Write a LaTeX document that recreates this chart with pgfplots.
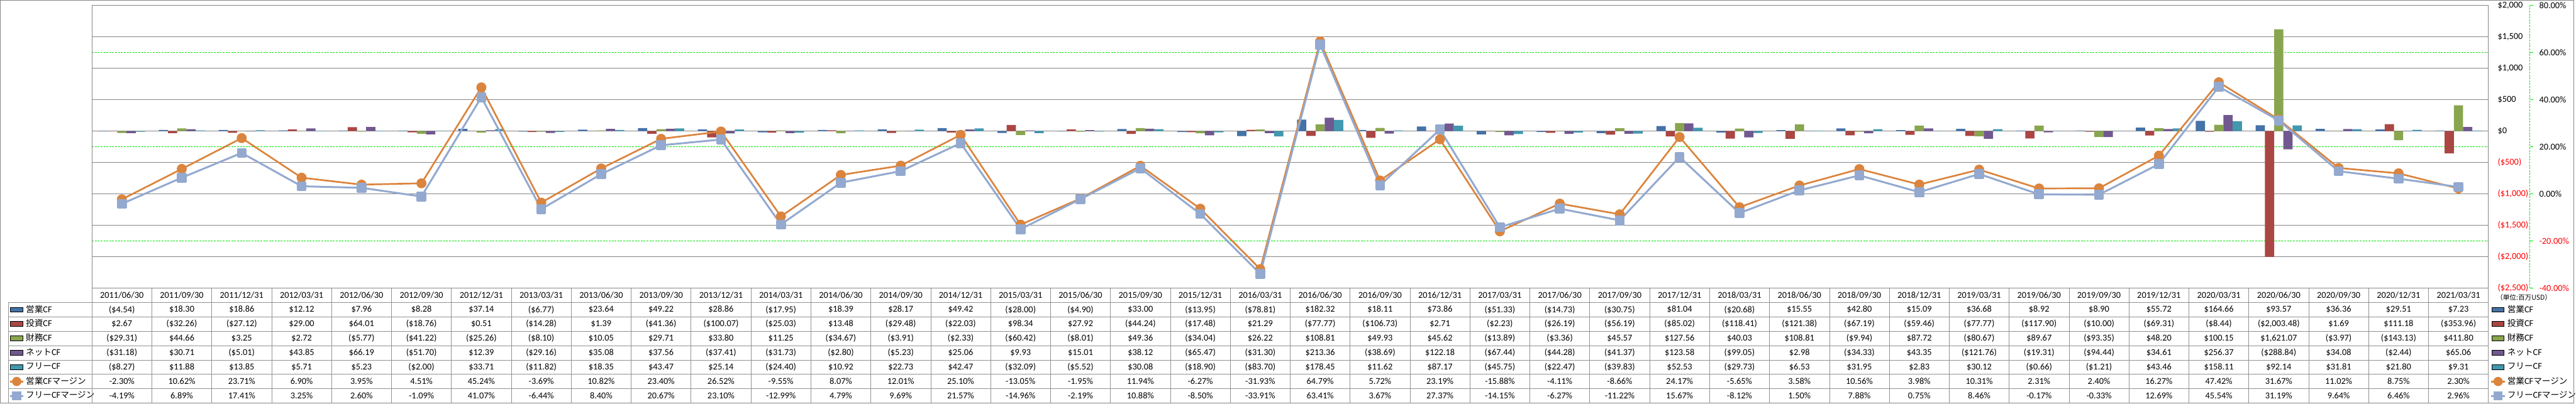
\documentclass[border=0pt]{standalone}
\usepackage{fontspec}
\setmainfont{Carlito}
\newfontfamily\cjk{Noto Sans CJK JP}[Scale=0.95]
\usepackage{pgfplots}
\usepackage{pgfplotstable}
\pgfplotsset{compat=1.18}

\definecolor{cOp}{HTML}{4572A7}
\definecolor{cInv}{HTML}{AA4643}
\definecolor{cFin}{HTML}{89A54E}
\definecolor{cNet}{HTML}{71588F}
\definecolor{cFree}{HTML}{4198AF}
\definecolor{cOpM}{HTML}{DB843D}
\definecolor{cFreeM}{HTML}{93A9CF}
\definecolor{gridgray}{HTML}{868686}
\definecolor{gridgreen}{HTML}{00E400}

% quarterly cash flow (million USD) and margins (%)
\pgfplotstableread{
x date ocf icf fcf ncf frcf om fm
0 2011/06/30 -4.54 2.67 -29.31 -31.18 -8.27 -2.30 -4.19
1 2011/09/30 18.30 -32.26 44.66 30.71 11.88 10.62 6.89
2 2011/12/31 18.86 -27.12 3.25 -5.01 13.85 23.71 17.41
3 2012/03/31 12.12 29.00 2.72 43.85 5.71 6.90 3.25
4 2012/06/30 7.96 64.01 -5.77 66.19 5.23 3.95 2.60
5 2012/09/30 8.28 -18.76 -41.22 -51.70 -2.00 4.51 -1.09
6 2012/12/31 37.14 0.51 -25.26 12.39 33.71 45.24 41.07
7 2013/03/31 -6.77 -14.28 -8.10 -29.16 -11.82 -3.69 -6.44
8 2013/06/30 23.64 1.39 10.05 35.08 18.35 10.82 8.40
9 2013/09/30 49.22 -41.36 29.71 37.56 43.47 23.40 20.67
10 2013/12/31 28.86 -100.07 33.80 -37.41 25.14 26.52 23.10
11 2014/03/31 -17.95 -25.03 11.25 -31.73 -24.40 -9.55 -12.99
12 2014/06/30 18.39 13.48 -34.67 -2.80 10.92 8.07 4.79
13 2014/09/30 28.17 -29.48 -3.91 -5.23 22.73 12.01 9.69
14 2014/12/31 49.42 -22.03 -2.33 25.06 42.47 25.10 21.57
15 2015/03/31 -28.00 98.34 -60.42 9.93 -32.09 -13.05 -14.96
16 2015/06/30 -4.90 27.92 -8.01 15.01 -5.52 -1.95 -2.19
17 2015/09/30 33.00 -44.24 49.36 38.12 30.08 11.94 10.88
18 2015/12/31 -13.95 -17.48 -34.04 -65.47 -18.90 -6.27 -8.50
19 2016/03/31 -78.81 21.29 26.22 -31.30 -83.70 -31.93 -33.91
20 2016/06/30 182.32 -77.77 108.81 213.36 178.45 64.79 63.41
21 2016/09/30 18.11 -106.73 49.93 -38.69 11.62 5.72 3.67
22 2016/12/31 73.86 2.71 45.62 122.18 87.17 23.19 27.37
23 2017/03/31 -51.33 -2.23 -13.89 -67.44 -45.75 -15.88 -14.15
24 2017/06/30 -14.73 -26.19 -3.36 -44.28 -22.47 -4.11 -6.27
25 2017/09/30 -30.75 -56.19 45.57 -41.37 -39.83 -8.66 -11.22
26 2017/12/31 81.04 -85.02 127.56 123.58 52.53 24.17 15.67
27 2018/03/31 -20.68 -118.41 40.03 -99.05 -29.73 -5.65 -8.12
28 2018/06/30 15.55 -121.38 108.81 2.98 6.53 3.58 1.50
29 2018/09/30 42.80 -67.19 -9.94 -34.33 31.95 10.56 7.88
30 2018/12/31 15.09 -59.46 87.72 43.35 2.83 3.98 0.75
31 2019/03/31 36.68 -77.77 -80.67 -121.76 30.12 10.31 8.46
32 2019/06/30 8.92 -117.90 89.67 -19.31 -0.66 2.31 -0.17
33 2019/09/30 8.90 -10.00 -93.35 -94.44 -1.21 2.40 -0.33
34 2019/12/31 55.72 -69.31 48.20 34.61 43.46 16.27 12.69
35 2020/03/31 164.66 -8.44 100.15 256.37 158.11 47.42 45.54
36 2020/06/30 93.57 -2003.48 1621.07 -288.84 92.14 31.67 31.19
37 2020/09/30 36.36 1.69 -3.97 34.08 31.81 11.02 9.64
38 2020/12/31 29.51 111.18 -143.13 -2.44 21.80 8.75 6.46
39 2021/03/31 7.23 -353.96 411.80 65.06 9.31 2.30 2.96
}\cfdata

% ($12.34) style for negatives, $12.34 otherwise
\newcommand\money[1]{%
  \pgfmathtruncatemacro\isneg{(#1)<0}%
  \pgfmathsetmacro\absval{abs(#1)}%
  \ifnum\isneg=1 (\$\pgfmathprintnumber{\absval})\else\$\pgfmathprintnumber{\absval}\fi}
\newcommand\pct[1]{\pgfmathprintnumber{#1}\%}
\pgfkeys{/pgf/number format/.cd,fixed,fixed zerofill,precision=2,assume math mode=true}

\pgfplotsset{
  shortline/.style={legend image code/.code={%
    \draw[mark repeat=2,mark phase=2] plot coordinates {(0mm,0mm) (1.8mm,0mm) (3.6mm,0mm)};}},
  shortbar/.style={legend image code/.code={%
    \fill (0.2mm,-0.65mm) rectangle (3.4mm,0.65mm);}},
  tablelegend/.style={hide axis, xmin=0, xmax=1, ymin=0, ymax=1,
    legend cell align=left,
    legend style={at={(#1,-0.050833)}, anchor=north west, draw=none, fill=none,
      inner sep=0pt, outer sep=0pt, row sep=0pt, column sep=0.4mm,
      font=\fontsize{6.8}{8}\selectfont,
      nodes={inner sep=0pt, minimum height=3.8125mm}}},
}

\begin{document}
\begin{tikzpicture}[font=\fontsize{6.8}{8}\selectfont]
\pgfplotsset{every axis/.append style={scale only axis, width=635.5mm, height=75mm,
  xmin=-0.5, xmax=39.5, enlargelimits=false, xtick=\empty,
  tick label style={font=\fontsize{6.8}{8}\selectfont}}}

% green dashed grid of the margin axis (behind the bars)
\begin{axis}[ymin=-40, ymax=80, ytick={-40,-20,...,80}, yticklabels={},
  ymajorgrids, major grid style={gridgreen, line width=0.12mm, dash pattern=on 0.5mm off 0.27mm},
  axis line style={draw=none}, major tick length=0pt]
\end{axis}

% cash flow bars
\begin{axis}[ybar=0pt, bar width=2.45mm,
  ymin=-2500, ymax=2000, ytick={-2500,-2000,...,2000},
  yticklabel pos=right,
  yticklabels={{\color{red}(\$2,500)},{\color{red}(\$2,000)},{\color{red}(\$1,500)},
    {\color{red}(\$1,000)},{\color{red}(\$500)},\$0,\$500,{\$1,000},{\$1,500},{\$2,000}},
  yticklabel style={anchor=west, inner sep=0pt, xshift=2.4mm},
  ymajorgrids, major grid style={gridgray, line width=0.15mm},
  axis line style={gridgray, line width=0.15mm}, major tick length=0pt]
\addplot[fill=cOp, draw=none] table[x=x, y=ocf]{\cfdata};
\addplot[fill=cInv, draw=none] table[x=x, y=icf]{\cfdata};
\addplot[fill=cFin, draw=none] table[x=x, y=fcf]{\cfdata};
\addplot[fill=cNet, draw=none] table[x=x, y=ncf]{\cfdata};
\addplot[fill=cFree, draw=none] table[x=x, y=frcf]{\cfdata};
\end{axis}

% margin lines
\begin{axis}[ymin=-40, ymax=80, ytick={-40,-20,...,80},
  yticklabel pos=right,
  yticklabels={{\color{red}-40.00\%},{\color{red}-20.00\%},0.00\%,20.00\%,40.00\%,60.00\%,80.00\%},
  yticklabel style={anchor=west, inner sep=0pt, xshift=13.4mm},
  axis line style={draw=none}, major tick length=0pt]
\addplot[cOpM, line width=0.45mm, line join=round, mark=*, mark size=1.1mm,
  mark options={solid, fill=cOpM, draw=none}] table[x=x, y=om]{\cfdata};
\addplot[cFreeM, line width=0.5mm, line join=round, mark=square*, mark size=1.05mm,
  mark options={solid, fill=cFreeM, draw=none, rounded corners=0.3mm}] table[x=x, y=fm]{\cfdata};
\end{axis}

% legend keys of the data table, left and right
\begin{axis}[tablelegend=-0.034618]
\addlegendimage{shortbar, fill=cOp}\addlegendentry{{\cjk 営業}CF}
\addlegendimage{shortbar, fill=cInv}\addlegendentry{{\cjk 投資}CF}
\addlegendimage{shortbar, fill=cFin}\addlegendentry{{\cjk 財務}CF}
\addlegendimage{shortbar, fill=cNet}\addlegendentry{{\cjk ネット}CF}
\addlegendimage{shortbar, fill=cFree}\addlegendentry{{\cjk フリー}CF}
\addlegendimage{shortline, cOpM, line width=0.45mm, mark=*, mark size=1.0mm, mark options={fill=cOpM, draw=none}}
\addlegendentry{{\cjk 営業}CF{\cjk マージン}}
\addlegendimage{shortline, cFreeM, line width=0.5mm, mark=square*, mark size=0.95mm, mark options={fill=cFreeM, draw=none}}
\addlegendentry{{\cjk フリー}CF{\cjk マージン}}
\end{axis}
\begin{axis}[tablelegend=1.000787]
\addlegendimage{shortbar, fill=cOp}\addlegendentry{{\cjk 営業}CF}
\addlegendimage{shortbar, fill=cInv}\addlegendentry{{\cjk 投資}CF}
\addlegendimage{shortbar, fill=cFin}\addlegendentry{{\cjk 財務}CF}
\addlegendimage{shortbar, fill=cNet}\addlegendentry{{\cjk ネット}CF}
\addlegendimage{shortbar, fill=cFree}\addlegendentry{{\cjk フリー}CF}
\addlegendimage{shortline, cOpM, line width=0.45mm, mark=*, mark size=1.0mm, mark options={fill=cOpM, draw=none}}
\addlegendentry{{\cjk 営業}CF{\cjk マージン}}
\addlegendimage{shortline, cFreeM, line width=0.5mm, mark=square*, mark size=0.95mm, mark options={fill=cFreeM, draw=none}}
\addlegendentry{{\cjk フリー}CF{\cjk マージン}}
\end{axis}

% secondary axis line (green dashed) with its ticks
\draw[gridgreen, line width=0.12mm, dash pattern=on 0.5mm off 0.27mm] (646.5mm,0) -- (646.5mm,75mm);
\foreach \k in {0,...,6}
  \draw[gridgreen, line width=0.12mm] (646.5mm,{\k*12.5mm}) -- (647.3mm,{\k*12.5mm});

\node[font=\fontsize{5.3}{6}\selectfont] at (644.9mm,-2.5mm) {\cjk （単位:百万USD）};

% data table grid
\begin{scope}[gridgray!90, line width=0.12mm]
\foreach \k in {0,...,40}
  \draw ({\k*15.8875mm},0) -- ({\k*15.8875mm},-30.5mm);
\foreach \k in {1,...,8}
  \draw (-22.2mm,{-\k*3.8125mm}) -- (635.5mm,{-\k*3.8125mm});
\draw (-22.2mm,-3.8125mm) -- (-22.2mm,-30.5mm);
\end{scope}

% data table values
\foreach \i in {0,...,39}{
  \pgfmathsetmacro\cx{(\i+0.5)*15.8875}
  \pgfplotstablegetelem{\i}{date}\of\cfdata
  \node[inner sep=0pt] at (\cx mm,-1.906mm) {\pgfplotsretval};
  \foreach \col [count=\r] in {ocf,icf,fcf,ncf,frcf}{
    \pgfplotstablegetelem{\i}{\col}\of\cfdata
    \let\cellval\pgfplotsretval
    \node[inner sep=0pt] at (\cx mm,{-1.906mm-\r*3.8125mm}) {\money{\cellval}};
  }
  \foreach \col [count=\r from 6] in {om,fm}{
    \pgfplotstablegetelem{\i}{\col}\of\cfdata
    \let\cellval\pgfplotsretval
    \node[inner sep=0pt] at (\cx mm,{-1.906mm-\r*3.8125mm}) {\pct{\cellval}};
  }
}

% outer chart border
\draw[gridgray, line width=0.15mm] (-24.3mm,-30.55mm) rectangle (658.2mm,76.4mm);
\end{tikzpicture}
\end{document}
